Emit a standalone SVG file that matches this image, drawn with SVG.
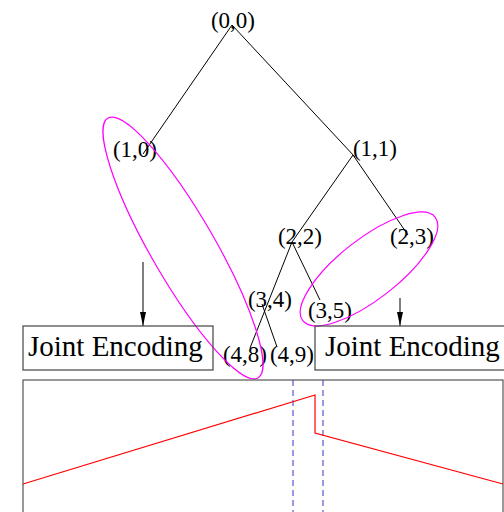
<svg xmlns="http://www.w3.org/2000/svg" width="504" height="512" viewBox="0 0 504 512">
<defs>
<style>
.lbl{font-family:"Liberation Serif","Times New Roman",serif;font-size:23px;fill:#000;text-anchor:middle}
.big{font-family:"Liberation Serif","Times New Roman",serif;font-size:29px;fill:#000}
.edge{stroke:#000;stroke-width:1;fill:none}
.ell{stroke:#ff00ff;stroke-width:1.2;fill:none}
.box{stroke:#444;stroke-width:1.2;fill:none}
</style>
<marker id="arr" markerWidth="14" markerHeight="6" refX="14" refY="3" orient="auto" markerUnits="userSpaceOnUse" viewBox="0 0 14 6">
<path d="M0,0 L14,3 L0,6 Z" fill="#000"/>
</marker>
</defs>
<g id="connectors">
<line class="edge" x1="232" y1="25" x2="143" y2="154"/>
<line class="edge" x1="232" y1="25" x2="355" y2="157"/>
<line class="edge" x1="353" y1="155" x2="292" y2="242"/>
<line class="edge" x1="353" y1="155" x2="408" y2="235"/>
<line class="edge" x1="292" y1="242" x2="250" y2="348"/>
<line class="edge" x1="292" y1="242" x2="320" y2="300"/>
<line class="edge" x1="262" y1="304" x2="277" y2="347"/>
<line class="edge" x1="143" y1="262" x2="143" y2="326" marker-end="url(#arr)"/>
<line class="edge" x1="400" y1="298" x2="400" y2="326" marker-end="url(#arr)"/>
</g>
<g id="n00"><text class="lbl" x="233" y="28">(0,0)</text></g>
<g id="n10"><text class="lbl" x="135" y="157">(1,0)</text></g>
<g id="n11"><text class="lbl" x="375" y="156">(1,1)</text></g>
<g id="n22"><text class="lbl" x="300" y="244">(2,2)</text></g>
<g id="n23"><text class="lbl" x="412" y="244">(2,3)</text></g>
<g id="n34"><text class="lbl" x="270" y="307">(3,4)</text></g>
<g id="n35"><text class="lbl" x="330" y="318">(3,5)</text></g>
<g id="n48"><text class="lbl" x="245" y="362">(4,8)</text></g>
<g id="n49"><text class="lbl" x="292" y="362">(4,9)</text></g>
<g id="groupL"><ellipse class="ell" cx="183" cy="248" rx="150" ry="32" transform="rotate(60 183 248)"/></g>
<g id="groupR"><ellipse class="ell" cx="369" cy="269" rx="84" ry="30" transform="rotate(-38 369 269)"/></g>
<g id="jeL"><rect class="box" x="23" y="326" width="190" height="44"/><text class="big" x="28" y="356">Joint Encoding</text></g>
<g id="jeR"><rect class="box" x="315" y="326" width="200" height="44"/><text class="big" x="325" y="356">Joint Encoding</text></g>
<g id="plot">
<rect x="23" y="380" width="480" height="140" fill="none" stroke="#555" stroke-width="1.2"/>
<line x1="293" y1="380" x2="293" y2="512" stroke="#3333cc" stroke-width="1" stroke-dasharray="6,4"/>
<line x1="323" y1="380" x2="323" y2="512" stroke="#3333cc" stroke-width="1" stroke-dasharray="6,4"/>
<polyline points="23,484 315,395 315,433 503,484" fill="none" stroke="#ff0000" stroke-width="1.2"/>
</g>
</svg>
